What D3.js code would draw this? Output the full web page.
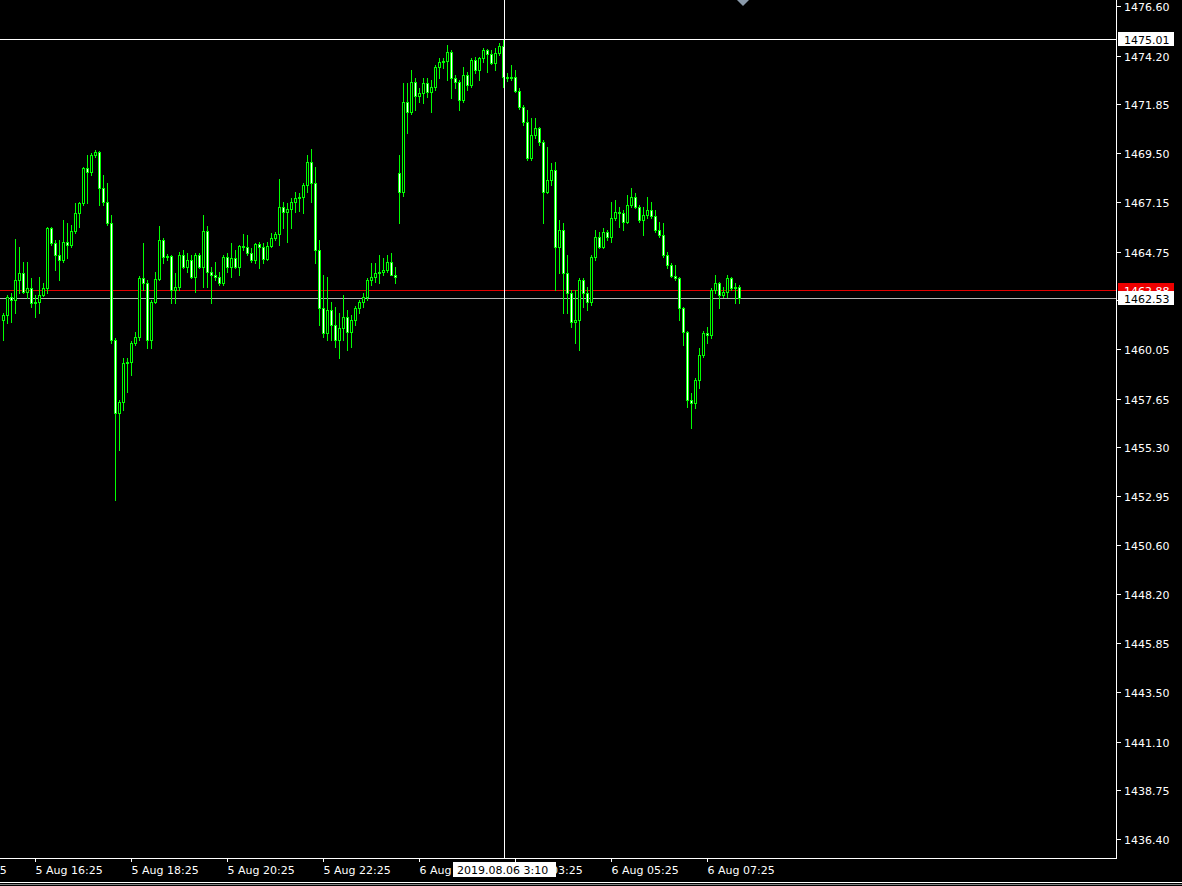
<!DOCTYPE html>
<html><head><meta charset="utf-8">
<script src="https://cdn.jsdelivr.net/npm/d3@7"></script>
<style>html,body{margin:0;padding:0;background:#000;overflow:hidden}</style>
</head><body>
<svg id="c" width="1182" height="886"></svg>
<script>
const opens=[1461.45,1461.69,1462.56,1462.41,1463.38,1463.72,1462.80,1462.99,1462.27,1462.32,
1462.65,1462.99,1465.89,1465.16,1464.58,1464.34,1465.21,1465.07,1465.74,1466.61,
1467.09,1468.78,1468.59,1469.41,1469.55,1467.82,1467.14,1466.13,1460.48,1456.96,
1457.49,1459.37,1459.42,1460.34,1460.63,1463.47,1463.23,1460.48,1462.32,1463.43,
1465.31,1464.49,1464.54,1462.89,1463.04,1464.58,1464.00,1464.34,1463.52,1464.58,
1464.00,1465.74,1463.76,1463.62,1463.52,1463.23,1464.49,1464.00,1464.44,1464.00,
1465.02,1464.97,1464.68,1464.34,1465.11,1464.97,1464.39,1465.02,1465.40,1465.60,
1466.90,1466.66,1466.80,1467.14,1467.33,1467.38,1467.96,1469.07,1468.06,1464.83,
1462.03,1460.82,1461.93,1461.21,1460.48,1461.06,1461.59,1460.87,1461.45,1462.03,
1462.32,1462.56,1463.38,1463.52,1463.72,1463.76,1463.86,1464.25,1463.62,1468.54,
1467.62,1471.97,1471.48,1472.93,1472.26,1472.40,1472.88,1472.45,1472.69,1473.66,
1473.90,1473.95,1474.38,1473.13,1472.93,1472.06,1473.27,1472.79,1473.99,1473.51,
1474.09,1474.48,1474.28,1473.85,1474.33,1474.67,1473.17,1473.13,1473.17,1472.50,
1471.73,1471.00,1469.27,1470.37,1470.71,1470.04,1467.62,1468.20,1468.69,1464.97,
1465.79,1463.72,1462.75,1461.35,1461.45,1463.38,1462.75,1462.32,1464.49,1465.45,
1464.97,1465.69,1465.45,1466.37,1466.66,1466.61,1466.18,1467.00,1467.38,1466.90,
1466.27,1466.51,1466.76,1466.47,1465.79,1465.55,1464.58,1464.10,1463.57,1463.47,
1462.03,1460.87,1457.59,1457.44,1458.55,1459.76,1460.82,1460.72,1462.89,1463.23,
1462.65,1462.80,1463.47,1462.99,1463.04];
const highs=[1461.78,1462.65,1462.75,1465.36,1464.97,1464.25,1464.25,1463.47,1462.65,1463.52,
1463.23,1465.93,1465.93,1465.31,1465.31,1466.27,1466.13,1466.03,1467.09,1467.14,
1468.83,1469.41,1469.51,1469.65,1469.60,1468.44,1468.06,1466.51,1460.58,1457.59,
1459.61,1459.61,1460.43,1460.87,1463.57,1465.16,1463.38,1462.41,1463.76,1465.98,
1465.40,1464.63,1464.58,1463.72,1464.73,1464.83,1464.68,1464.58,1464.68,1464.68,
1466.51,1465.98,1464.00,1464.25,1463.76,1464.58,1464.68,1465.16,1464.83,1465.07,
1465.60,1465.55,1464.92,1465.16,1465.21,1465.16,1465.21,1465.65,1465.69,1468.25,
1467.14,1467.09,1467.33,1467.62,1467.58,1468.06,1469.41,1469.70,1468.83,1465.31,
1463.62,1463.52,1462.32,1462.07,1461.78,1462.65,1461.93,1461.69,1462.12,1462.41,
1462.75,1463.47,1464.20,1464.20,1464.58,1464.44,1464.58,1464.68,1464.00,1469.41,
1472.88,1472.88,1473.51,1473.13,1472.64,1473.13,1473.13,1473.03,1473.75,1474.09,
1474.09,1474.72,1474.48,1473.27,1473.03,1473.66,1473.42,1474.09,1474.14,1474.14,
1474.57,1474.53,1474.48,1474.57,1474.82,1475.01,1473.37,1473.75,1473.51,1472.64,
1471.82,1471.58,1471.20,1471.20,1470.75,1470.13,1469.80,1469.02,1469.07,1466.27,
1466.13,1464.58,1462.89,1462.89,1463.47,1463.47,1463.04,1464.58,1465.79,1465.69,
1465.89,1465.79,1467.14,1467.24,1466.90,1466.76,1467.48,1467.82,1467.58,1467.00,
1466.90,1467.38,1467.14,1466.76,1466.18,1466.13,1464.73,1464.20,1464.10,1463.52,
1462.07,1460.92,1457.92,1458.65,1460.10,1460.92,1461.11,1462.99,1463.62,1463.28,
1463.04,1463.62,1463.52,1463.23,1463.14];
const lows=[1460.48,1461.30,1461.35,1461.78,1462.75,1462.75,1462.51,1462.07,1461.59,1461.78,
1462.61,1462.75,1465.07,1463.86,1463.38,1464.25,1464.44,1464.97,1465.65,1465.93,
1467.00,1467.09,1468.44,1469.31,1467.00,1467.00,1466.03,1460.34,1452.76,1455.17,
1457.10,1457.97,1458.79,1460.24,1460.48,1462.89,1460.10,1460.10,1462.27,1463.38,
1464.20,1464.34,1462.27,1462.27,1462.89,1463.96,1463.76,1463.47,1462.80,1463.96,
1463.04,1463.04,1462.27,1463.38,1463.14,1463.14,1463.76,1463.52,1463.96,1463.62,
1464.83,1464.58,1464.25,1464.20,1463.96,1464.20,1464.34,1464.97,1465.31,1465.07,
1465.89,1465.21,1465.89,1466.66,1466.71,1466.61,1467.62,1467.14,1464.20,1461.21,
1460.63,1460.48,1460.48,1460.14,1459.61,1460.48,1460.00,1460.14,1461.21,1461.78,
1462.07,1462.41,1463.14,1463.28,1463.23,1463.62,1463.76,1463.62,1463.23,1466.13,
1467.43,1470.47,1471.39,1471.58,1471.97,1471.92,1472.21,1471.48,1472.55,1473.13,
1473.61,1473.03,1472.16,1472.64,1471.58,1471.97,1472.55,1472.69,1473.37,1473.03,
1473.90,1473.42,1473.80,1473.51,1474.24,1472.69,1472.98,1473.03,1472.45,1471.63,
1470.86,1469.17,1469.17,1470.23,1469.89,1466.13,1467.58,1467.96,1462.89,1463.72,
1461.78,1461.78,1461.11,1460.34,1460.00,1462.07,1461.93,1462.17,1464.34,1464.92,
1464.92,1465.31,1465.21,1466.27,1465.93,1465.79,1466.13,1466.90,1466.85,1466.18,
1465.55,1466.37,1466.37,1465.69,1465.45,1464.49,1463.96,1463.52,1463.38,1461.45,
1460.24,1457.25,1456.24,1457.20,1458.17,1459.66,1460.34,1460.58,1462.75,1462.03,
1462.56,1462.56,1462.89,1462.27,1462.27];
const closes=[1461.69,1462.56,1462.41,1463.38,1463.72,1462.80,1462.99,1462.27,1462.32,1462.65,
1462.99,1465.89,1465.16,1464.58,1464.34,1465.21,1465.07,1465.74,1466.61,1467.09,
1468.78,1468.59,1469.41,1469.55,1467.82,1467.14,1466.13,1460.48,1456.96,1457.49,
1459.37,1459.42,1460.34,1460.63,1463.47,1463.23,1460.48,1462.32,1463.43,1465.31,
1464.49,1464.54,1462.89,1463.04,1464.58,1464.00,1464.34,1463.52,1464.58,1464.00,
1465.74,1463.76,1463.62,1463.52,1463.23,1464.49,1464.00,1464.44,1464.00,1465.02,
1464.97,1464.68,1464.34,1465.11,1464.97,1464.39,1465.02,1465.40,1465.60,1466.90,
1466.66,1466.80,1467.14,1467.33,1467.38,1467.96,1469.07,1468.06,1464.83,1462.03,
1460.82,1461.93,1461.21,1460.48,1461.06,1461.59,1460.87,1461.45,1462.03,1462.32,
1462.56,1463.38,1463.52,1463.72,1463.76,1463.86,1464.25,1463.62,1463.52,1467.62,
1471.97,1471.48,1472.93,1472.26,1472.40,1472.88,1472.45,1472.69,1473.66,1473.90,
1473.95,1474.38,1473.13,1472.93,1472.06,1473.27,1472.79,1473.99,1473.51,1474.09,
1474.48,1474.28,1473.85,1474.33,1474.67,1473.17,1473.13,1473.17,1472.50,1471.73,
1471.00,1469.27,1470.37,1470.71,1470.04,1467.62,1468.20,1468.69,1464.97,1465.79,
1463.72,1462.75,1461.35,1461.45,1463.38,1462.75,1462.32,1464.49,1465.45,1464.97,
1465.69,1465.45,1466.37,1466.66,1466.61,1466.18,1467.00,1467.38,1466.90,1466.27,
1466.51,1466.76,1466.47,1465.79,1465.55,1464.58,1464.10,1463.57,1463.47,1462.03,
1460.87,1457.59,1457.44,1458.55,1459.76,1460.82,1460.72,1462.89,1463.23,1462.65,
1462.80,1463.47,1462.99,1463.04,1462.53];

const yTickValues=[1476.60,1474.20,1471.85,1469.50,1467.15,1464.75,1462.40,1460.05,1457.65,
1455.30,1452.95,1450.60,1448.20,1445.85,1443.50,1441.10,1438.75,1436.40];
const xTickIdx=[-16,8,32,56,80,104,128,152,176];
const xTickLabels=["5 Aug 14:25","5 Aug 16:25","5 Aug 18:25","5 Aug 20:25","5 Aug 22:25",
"6 Aug 01:25","6 Aug 03:25","6 Aug 05:25","6 Aug 07:25"];
const bidPrice=1462.53, askPrice=1462.88;
const crossPrice=1475.01, crossIdx=125, crossLabel="2019.08.06 3:10";
const shiftIdx=185;

const plotR=1116, plotB=858;
const FONT="DejaVu Sans";
const x=d3.scaleLinear().domain([0,184]).range([3,739]);
const y=d3.scaleLinear().domain([1436.40,1476.60]).range([839,6]);
const R=v=>Math.round(v);

const svg=d3.select("#c").attr("shape-rendering","crispEdges");
svg.append("rect").attr("width",1182).attr("height",886).attr("fill","#000");

const plot=svg.append("g");
plot.append("clipPath").attr("id","pc").append("rect").attr("x",0).attr("y",0).attr("width",plotR).attr("height",plotB);
const g=plot.append("g").attr("clip-path","url(#pc)");

// ask / bid lines
g.append("line").attr("x1",0).attr("x2",plotR).attr("y1",R(y(askPrice))+0.5).attr("y2",R(y(askPrice))+0.5)
 .attr("stroke","#e00000").attr("stroke-width",1);
g.append("line").attr("x1",0).attr("x2",plotR).attr("y1",R(y(bidPrice))+0.5).attr("y2",R(y(bidPrice))+0.5)
 .attr("stroke","#b4b4b4").attr("stroke-width",1);

const GREEN="#00ff00";
const idx=d3.range(opens.length);
const cg=g.append("g");
// wicks
cg.selectAll("rect.w").data(idx).join("rect").attr("class","w")
 .attr("x",i=>R(x(i))).attr("width",1)
 .attr("y",i=>R(y(highs[i]))).attr("height",i=>R(y(lows[i]))-R(y(highs[i]))+1)
 .attr("fill",GREEN);
// bodies
cg.selectAll("rect.b").data(idx).join("rect").attr("class","b")
 .attr("x",i=>R(x(i))-1).attr("width",3)
 .attr("y",i=>R(y(Math.max(opens[i],closes[i]))))
 .attr("height",i=>R(y(Math.min(opens[i],closes[i])))-R(y(Math.max(opens[i],closes[i])))+1)
 .attr("fill",GREEN);
// body interiors
cg.selectAll("rect.f").data(idx.filter(i=>R(y(Math.min(opens[i],closes[i])))-R(y(Math.max(opens[i],closes[i])))>1))
 .join("rect").attr("class","f")
 .attr("x",i=>R(x(i))).attr("width",1)
 .attr("y",i=>R(y(Math.max(opens[i],closes[i])))+1)
 .attr("height",i=>R(y(Math.min(opens[i],closes[i])))-R(y(Math.max(opens[i],closes[i])))-1)
 .attr("fill",i=>closes[i]>=opens[i]?"#000":"#ffffff");

// crosshair
const cx=R(x(crossIdx))+1, cy=R(y(crossPrice));
g.append("line").attr("x1",cx+0.5).attr("x2",cx+0.5).attr("y1",0).attr("y2",plotB).attr("stroke","#fff");
g.append("line").attr("x1",0).attr("x2",plotR).attr("y1",cy+0.5).attr("y2",cy+0.5).attr("stroke","#fff");

// shift marker
const sx=R(x(shiftIdx));
svg.append("path").attr("d",`M${sx-6},0L${sx+6},0L${sx},6Z`).attr("fill","#8a9aaa").attr("shape-rendering","auto");

// frame
svg.append("line").attr("x1",plotR+0.5).attr("x2",plotR+0.5).attr("y1",0).attr("y2",plotB+1).attr("stroke","#fff");
svg.append("line").attr("x1",0).attr("x2",plotR+1).attr("y1",plotB+0.5).attr("y2",plotB+0.5).attr("stroke","#fff");
svg.append("line").attr("x1",0).attr("x2",1182).attr("y1",882.5).attr("y2",882.5).attr("stroke","#fff");
svg.append("line").attr("x1",0).attr("x2",1182).attr("y1",884.5).attr("y2",884.5).attr("stroke","#808080");

// y axis
const ya=svg.append("g");
yTickValues.forEach(v=>{
  const yy=R(y(v));
  ya.append("line").attr("x1",plotR+1).attr("x2",plotR+5).attr("y1",yy+0.5).attr("y2",yy+0.5).attr("stroke","#fff");
  ya.append("text").attr("x",1124).attr("y",yy+4.5).attr("fill","#fff")
    .attr("font-family",FONT).attr("font-size",11).text(v.toFixed(2));
});

// x axis
const xa=svg.append("g");
xTickIdx.forEach((t,i)=>{
  const xx=R(x(t));
  xa.append("line").attr("x1",xx+0.5).attr("x2",xx+0.5).attr("y1",plotB+1).attr("y2",plotB+4).attr("stroke","#fff");
  xa.append("text").attr("x",xx+0.5).attr("y",874).attr("fill","#fff")
    .attr("font-family",FONT).attr("font-size",11).text(xTickLabels[i]);
});

// price labels on the right
function priceLabel(p,bg,fg){
  const yy=R(y(p));
  svg.append("rect").attr("x",plotR+2).attr("y",yy-7).attr("width",56).attr("height",14).attr("fill",bg);
  svg.append("text").attr("x",1124).attr("y",yy+4.5).attr("fill",fg)
    .attr("font-family",FONT).attr("font-size",11).text(p.toFixed(2));
}
priceLabel(askPrice,"#ee0000","#fff");
priceLabel(bidPrice,"#fff","#000");
priceLabel(crossPrice,"#fff","#000");

// crosshair time label
svg.append("rect").attr("x",cx-51).attr("y",862).attr("width",103).attr("height",15).attr("fill","#fff");
svg.append("text").attr("x",cx-47).attr("y",874).attr("fill","#000")
  .attr("font-family",FONT).attr("font-size",11).text(crossLabel);
</script>
</body></html>
